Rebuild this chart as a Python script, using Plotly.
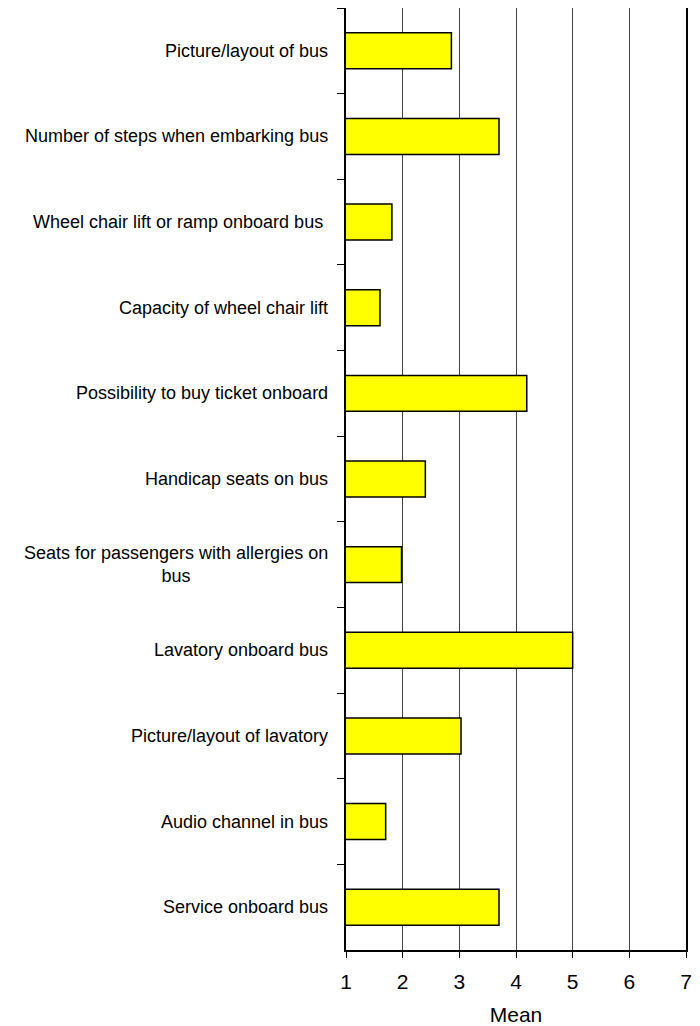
import plotly.graph_objects as go

categories = [
    "Picture/layout of bus",
    "Number of steps when embarking bus",
    "Wheel chair lift or ramp onboard bus ",
    "Capacity of wheel chair lift",
    "Possibility to buy ticket onboard",
    "Handicap seats on bus",
    "Seats for passengers with allergies on<br>bus",
    "Lavatory onboard bus",
    "Picture/layout of lavatory",
    "Audio channel in bus",
    "Service onboard bus",
]
means = [2.86, 3.70, 1.81, 1.60, 4.19, 2.40, 1.98, 5.00, 3.03, 1.70, 3.70]
x_ticks = [1, 2, 3, 4, 5, 6, 7]
x_title = "Mean"

label_font = dict(family="Liberation Sans Narrow, Arial Narrow, Liberation Sans, Arial", size=18, color="#000")
tick_font = dict(family="Liberation Sans, Arial", size=21, color="#000")

fig = go.Figure()
fig.add_trace(go.Bar(
    y=categories, x=means, orientation="h",
    marker=dict(color="#FFFF00", line=dict(color="#000000", width=1.5)),
    width=0.42, showlegend=False,
))

for c in categories:
    fig.add_annotation(
        x=0, xref="paper", y=c, yref="y", text=c, showarrow=False,
        xanchor="right", yanchor="middle", align="center", xshift=-16,
        font=label_font,
    )

fig.update_layout(
    width=692, height=1018,
    margin=dict(l=338, r=14, t=0, b=76),
    plot_bgcolor="white", paper_bgcolor="white",
    xaxis=dict(
        range=[1, 7], tickvals=x_ticks, ticktext=[str(v) for v in x_ticks],
        showgrid=True, gridcolor="#444444", gridwidth=1,
        showline=True, linecolor="#000", linewidth=1.5, mirror=True,
        ticks="outside", ticklen=6, tickcolor="#000",
        tickfont=tick_font, zeroline=False, ticklabelstandoff=6,
        ticklabeloverflow="allow", automargin=False,
        title=dict(text=x_title, font=tick_font, standoff=16),
    ),
    yaxis=dict(
        type="category", autorange="reversed",
        showticklabels=False, tickson="boundaries",
        ticks="outside", ticklen=7, tickcolor="#000",
        showline=True, linecolor="#000", linewidth=1.5, mirror=True,
        showgrid=False, automargin=False,
    ),
    bargap=0.58,
)

fig.write_html("out.html")
